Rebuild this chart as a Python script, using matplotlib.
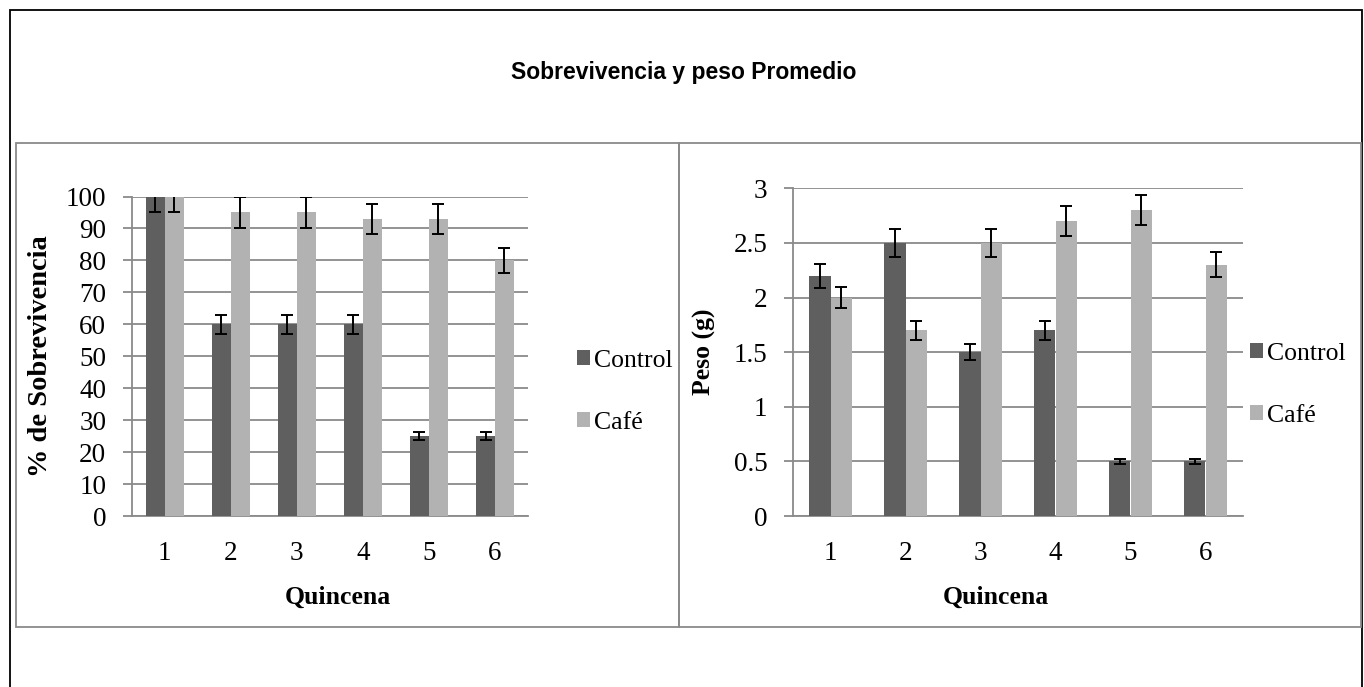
import matplotlib
matplotlib.use("Agg")
import matplotlib.pyplot as plt
from matplotlib.patches import Rectangle
import numpy as np

# ---- data ----
quincenas = ["1", "2", "3", "4", "5", "6"]
series_names = ["Control", "Café"]
surv_control = [100, 60, 60, 60, 25, 25]
surv_cafe = [100, 95, 95, 93, 93, 80]
surv_control_err = [5, 3, 3, 3, 1.25, 1.25]
surv_cafe_err = [5, 4.75, 4.75, 4.65, 4.65, 4]
peso_control = [2.2, 2.5, 1.5, 1.7, 0.5, 0.5]
peso_cafe = [2.0, 1.7, 2.5, 2.7, 2.8, 2.3]
peso_control_err = [0.11, 0.125, 0.075, 0.085, 0.025, 0.025]
peso_cafe_err = [0.10, 0.085, 0.125, 0.135, 0.14, 0.115]
surv_ticks = [0, 10, 20, 30, 40, 50, 60, 70, 80, 90, 100]
peso_ticks = [0, 0.5, 1, 1.5, 2, 2.5, 3]
peso_ticklabels = ["0", "0.5", "1", "1.5", "2", "2.5", "3"]

title = "Sobrevivencia y peso Promedio"

W, H = 1364, 687
fig = plt.figure(figsize=(W / 100, H / 100), dpi=100)

title_font = "Liberation Sans"
serif = "Liberation Serif"

C_DARK = "#5f5f5f"
C_LIGHT = "#b2b2b2"
GRID = "#8a8a8a"
FS = 19.5
LEG_FS = 18.5


def fx(px):
    return px / W


def fy(py):
    return 1 - py / H


# outer border (black) and panel borders (gray)
fig.patches.append(Rectangle((fx(9.5), fy(700)), fx(1362 - 9.5), fy(9.5) - fy(700),
                             transform=fig.transFigure, fill=False, ec="black", lw=1.3))
for x0, x1 in [(15.7, 678.7), (678.7, 1360.5)]:
    fig.patches.append(Rectangle((fx(x0), fy(626.7)), fx(x1 - x0), fy(142.7) - fy(626.7),
                                 transform=fig.transFigure, fill=False, ec=GRID, lw=1.3))

fig.text(fx(684), fy(72), title, ha="center", va="center", fontsize=16.5,
         fontweight="bold", family=title_font)


def panel(rect, ctrl, cafe, ectrl, ecafe, ymax, yticks, yticklabels, ylabel,
          ylabel_fs, ylabel_xy, xlabel_xy, leg_xy):
    ax = fig.add_axes(rect)
    x = np.arange(1, len(quincenas) + 1)
    w = 1 / 3.5
    b1 = ax.bar(x - w / 2, ctrl, w, color=C_DARK, label=series_names[0], zorder=2)
    b2 = ax.bar(x + w / 2, cafe, w, color=C_LIGHT, label=series_names[1], zorder=2)
    ax.errorbar(x - w / 2, ctrl, yerr=ectrl, fmt="none", ecolor="black",
                elinewidth=1.4, capsize=4.3, capthick=1.4, zorder=3)
    ax.errorbar(x + w / 2, cafe, yerr=ecafe, fmt="none", ecolor="black",
                elinewidth=1.4, capsize=4.3, capthick=1.4, zorder=3)
    ax.set_xlim(0.5, len(quincenas) + 0.5)
    ax.set_ylim(0, ymax)
    ax.set_yticks(yticks)
    ax.set_yticklabels(yticklabels)
    ax.set_xticks(x)
    ax.set_xticklabels(quincenas)
    ax.yaxis.grid(True, color=GRID, lw=1.3, zorder=0)
    ax.set_axisbelow(True)
    for s in ["top", "right"]:
        ax.spines[s].set_visible(False)
    for s in ["left", "bottom"]:
        ax.spines[s].set_color(GRID)
        ax.spines[s].set_linewidth(1.3)
        ax.spines[s].set_zorder(1)
    ax.tick_params(axis="y", length=6.3, width=1.3, color=GRID, pad=12, labelsize=FS)
    ax.tick_params(axis="x", length=0, pad=18, labelsize=FS)
    for t in ax.get_xticklabels() + ax.get_yticklabels():
        t.set_family(serif)
    fig.text(fx(ylabel_xy[0]), fy(ylabel_xy[1]), ylabel, rotation=90, ha="center",
             va="center", fontsize=ylabel_fs, fontweight="bold", family=serif)
    fig.text(fx(xlabel_xy[0]), fy(xlabel_xy[1]), "Quincena", ha="center",
             va="center", fontsize=18.5, fontweight="bold", family=serif)
    ax.legend(handles=[b1, b2], loc="center left",
              bbox_to_anchor=(fx(leg_xy[0]), fy(leg_xy[1])),
              bbox_transform=fig.transFigure, frameon=False, borderpad=0,
              borderaxespad=0, handlelength=0.52, handleheight=0.52,
              handletextpad=0.15, labelspacing=1.55,
              prop={"family": serif, "size": LEG_FS})
    return ax


panel([fx(131.7), fy(516), fx(528 - 131.7), fy(196.5) - fy(516)],
      surv_control, surv_cafe, surv_control_err, surv_cafe_err,
      100, surv_ticks, [str(t) for t in surv_ticks], "% de Sobrevivencia", 20.5,
      (41, 356), (338, 597), (577, 392))

panel([fx(793), fy(516), fx(1243 - 793), fy(188.3) - fy(516)],
      peso_control, peso_cafe, peso_control_err, peso_cafe_err,
      3, peso_ticks, peso_ticklabels, "Peso (g)", 18.5,
      (704, 352), (996, 597), (1250, 385))

fig.savefig("out.png", dpi=100)
